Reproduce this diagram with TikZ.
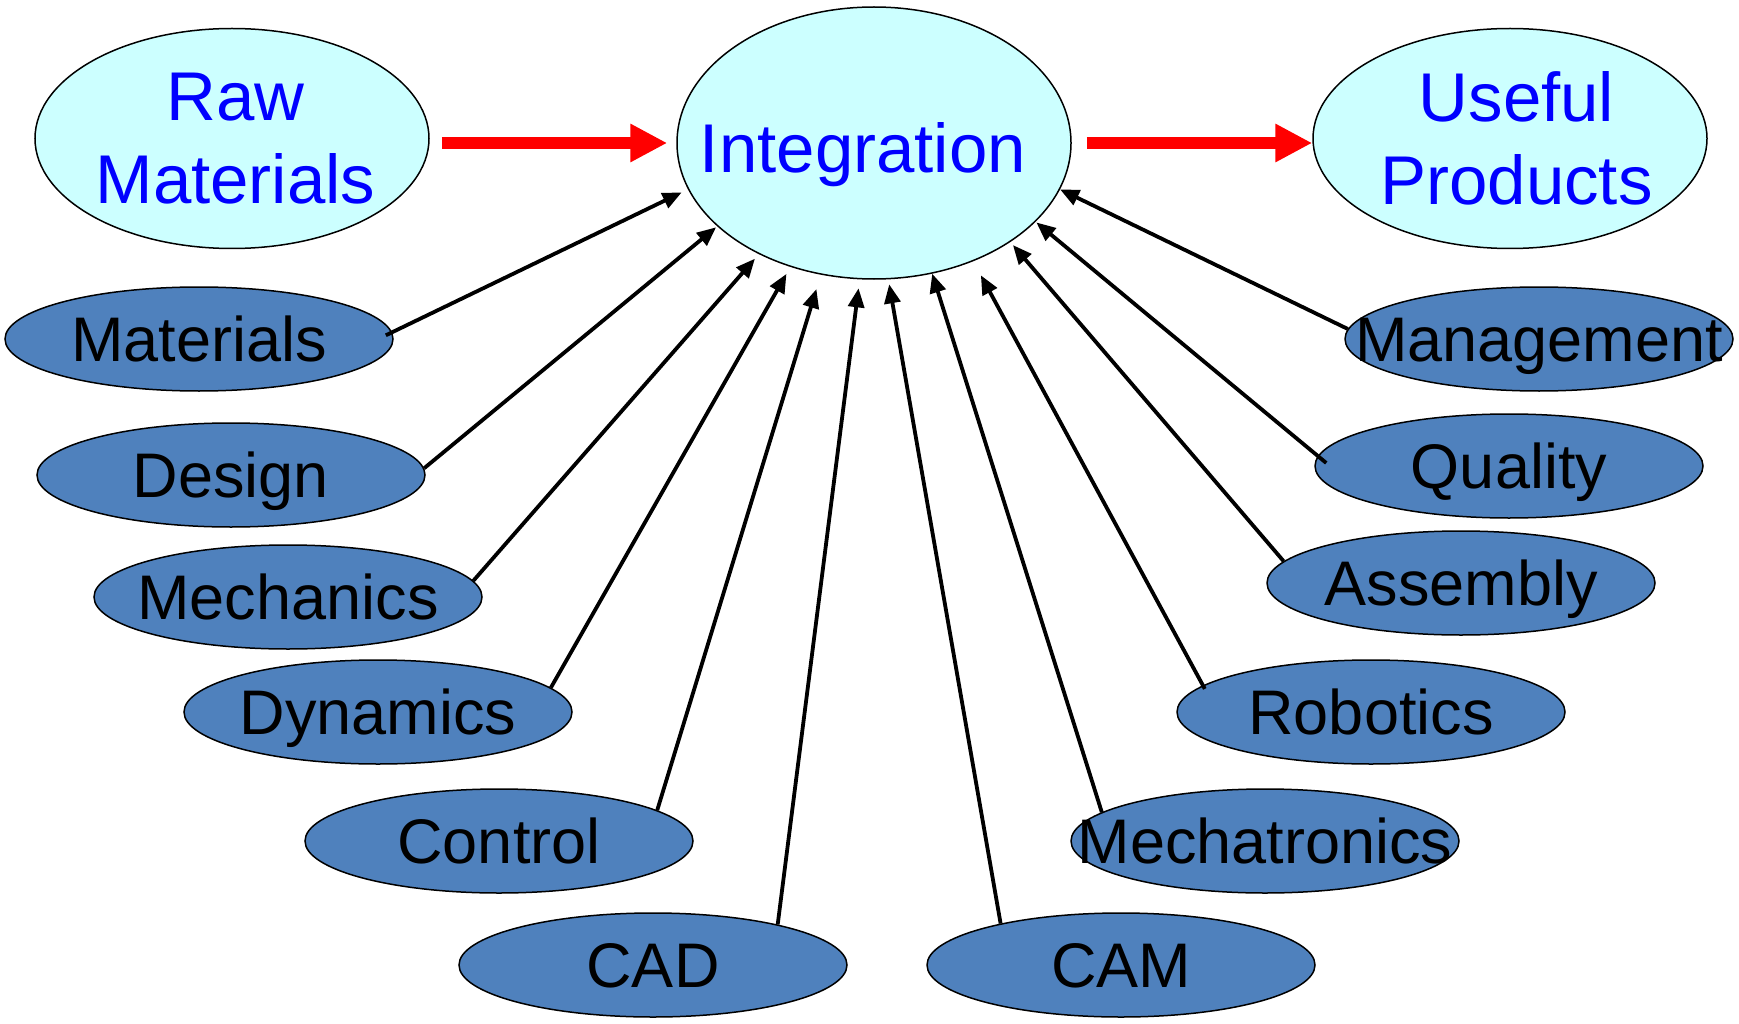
\documentclass[tikz,border=0pt]{standalone}
\usepackage{fontspec}
\setmainfont{Liberation Sans}
\usetikzlibrary{shapes.geometric,arrows.meta}
\definecolor{cyanfill}{HTML}{CCFFFF}
\definecolor{nodeblue}{HTML}{4F81BD}
\definecolor{txtblue}{HTML}{0000FF}
\definecolor{arrred}{HTML}{FF0000}
\begin{document}
\begin{tikzpicture}[x=1pt,y=-1pt,
  cyanell/.style={ellipse, draw=black, line width=1.5pt, fill=cyanfill,
    minimum width=394pt, minimum height=220pt, inner sep=0pt, inner xsep=-4pt, text=txtblue,
    font=\fontsize{69pt}{83pt}\selectfont, align=center},
  integell/.style={cyanell, minimum height=272pt, text height=49.4pt, text depth=0pt},
  blueell/.style={ellipse, draw=black, line width=1.5pt, fill=nodeblue,
    minimum width=388pt, minimum height=104pt, inner sep=0pt, text=black,
    font=\fontsize{63pt}{75pt}\selectfont, text height=45.1pt, text depth=0pt},
  conn/.style={line width=3.8pt, -{Triangle[length=19pt,width=16pt]}},
  redarr/.style={line width=12pt, draw=arrred, -{Triangle[length=37pt,width=36pt]}}
]
\fill[white] (0,0) rectangle (1739,1024);
\useasboundingbox (0,0) rectangle (1739,1024);

% top row
\node[cyanell] (raw) at (232,138.5)
  {\hspace*{3.5pt}Raw\hspace*{-3.5pt}\\\hspace*{3.5pt}Materials\hspace*{-3.5pt}};
\node[integell] (integ) at (874,143)
  {\makebox[0pt]{\raisebox{-4.5pt}{Integration}\hspace{22pt}}};
\node[cyanell] (useful) at (1510,138.5)
  {\hspace*{6.5pt}Useful\hspace*{-6.5pt}\\\hspace*{6.5pt}Products\hspace*{-6.5pt}};

% contributing disciplines
\node[blueell] (mat)  at (199,339)  {\makebox[0pt]{Materials}};
\node[blueell] (des)  at (231,475)  {\makebox[0pt]{Design}};
\node[blueell] (mech) at (288,597)  {\makebox[0pt]{Mechanics}};
\node[blueell] (dyn)  at (378,712)  {\makebox[0pt]{Dynamics}};
\node[blueell] (ctrl) at (499,841)  {\makebox[0pt]{Control}};
\node[blueell] (cad)  at (653,965)  {\makebox[0pt]{CAD}};
\node[blueell] (cam)  at (1121,965) {\makebox[0pt]{CAM}};
\node[blueell] (mtr)  at (1265,841) {\makebox[0pt]{Mechatronics}};
\node[blueell] (rob)  at (1371,712) {\makebox[0pt]{Robotics}};
\node[blueell] (asm)  at (1461,583) {\makebox[0pt]{Assembly}};
\node[blueell] (qual) at (1509,466) {\makebox[0pt]{Quality}};
\node[blueell] (mgmt) at (1539,339) {\makebox[0pt]{Management}};

% red flow arrows
\draw[redarr, shorten <=12pt, shorten >=9pt] (raw.east |- integ.west) -- (integ.west);
\draw[redarr, shorten <=15pt] (integ.east) -- (useful.west |- integ.east);

% black arrows into Integration
\draw[conn, shorten <=-7pt, shorten >=7pt] (mat.2.5) -- (integ.194.7);
\draw[conn, shorten >=1.5pt] (des.2.1) -- (integ.208.2);
\draw[conn, shorten >=6pt] (mech.5.1) -- (integ.224.8);
\draw[conn, shorten >=8pt] (dyn.8.4) -- (integ.236.2);
\draw[conn, shorten >=15pt] (ctrl.11.6) -- (integ.248.5);
\draw[conn, shorten >=9pt] (cad.18.8) -- (integ.264.1);
\draw[conn, shorten >=5pt] (cam.161.9) -- (integ.276.5);
\draw[conn] (mtr.170.3) -- (integ.294.0);
\draw[conn, shorten <=-4pt, shorten >=16pt] (rob.171.6) -- (integ.310.0);
\draw[conn, shorten >=4pt] (asm.173.4) -- (integ.324.5);
\draw[conn, shorten <=-11pt, shorten >=1pt] (qual.177.8) -- (integ.334.9);
\draw[conn] (mgmt.177.4) -- (integ.346.4);
\end{tikzpicture}
\end{document}
